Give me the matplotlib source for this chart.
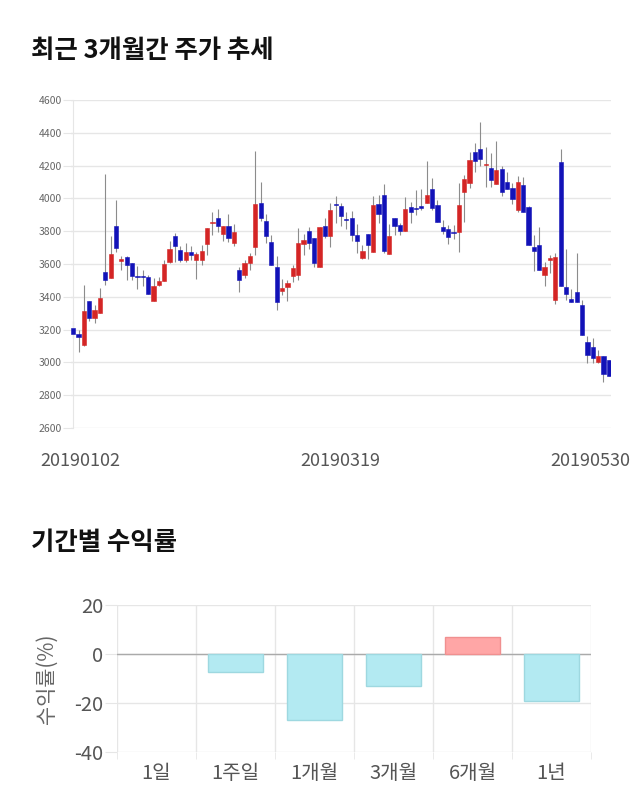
import numpy as np
import matplotlib
matplotlib.use('Agg')
import matplotlib.pyplot as plt

plt.rcParams['font.family'] = ['Noto Sans CJK KR', 'DejaVu Sans']

# Daily prices, 2019-01-02 .. 2019-05-30 (101 trading days)
opens = [3209, 3173, 3108, 3372, 3270, 3301, 3550, 3514, 3833, 3616,
         3642, 3605, 3524, 3518, 3518, 3372, 3473, 3494, 3615, 3768,
         3687, 3622, 3672, 3626, 3622, 3721, 3852, 3883, 3782, 3833,
         3731, 3565, 3534, 3609, 3701, 3971, 3863, 3733, 3579, 3433,
         3457, 3524, 3530, 3723, 3802, 3758, 3581, 3833, 3772, 3958,
         3954, 3866, 3879, 3778, 3636, 3782, 3676, 3965, 4022, 3660,
         3879, 3838, 3804, 3950, 3936, 3954, 3971, 4058, 3961, 3825,
         3812, 3790, 3798, 4036, 4093, 4283, 4302, 4202, 4184, 4086,
         4178, 4103, 4062, 3930, 4082, 3946, 3703, 3713, 3530, 3622,
         3382, 4220, 3459, 3388, 3427, 3352, 3122, 3092, 3002, 3037,
         3013]
highs = [3250, 3195, 3473, 3372, 3352, 3453, 4149, 3772, 3991, 3646,
         3646, 3605, 3585, 3565, 3530, 3514, 3518, 3626, 3743, 3792,
         3707, 3727, 3707, 3676, 3717, 3818, 3920, 3936, 3833, 3904,
         3845, 3579, 3626, 3666, 4291, 4103, 3904, 3774, 3646, 3510,
         3500, 3591, 3822, 3782, 3823, 3758, 3825, 3883, 3971, 4015,
         3971, 3920, 3924, 3843, 3717, 3782, 4015, 4022, 4088, 3843,
         3879, 3848, 4011, 3981, 4052, 4058, 4228, 4123, 3991, 3869,
         3838, 3838, 4093, 4143, 4285, 4336, 4464, 4316, 4275, 4352,
         4198, 4164, 4093, 4137, 4129, 3954, 3774, 3825, 3611, 3652,
         3666, 4302, 3693, 3449, 3670, 3382, 3159, 3149, 3077, 3037,
         3013]
lows = [3149, 3061, 3100, 3250, 3240, 3301, 3469, 3514, 3674, 3565,
        3500, 3504, 3449, 3463, 3417, 3372, 3463, 3494, 3605, 3615,
        3615, 3615, 3626, 3510, 3591, 3656, 3774, 3798, 3743, 3737,
        3711, 3429, 3514, 3561, 3652, 3863, 3731, 3591, 3317, 3408,
        3372, 3490, 3504, 3652, 3691, 3581, 3581, 3758, 3701, 3849,
        3829, 3812, 3743, 3666, 3632, 3630, 3676, 3849, 3666, 3660,
        3774, 3774, 3804, 3849, 3896, 3930, 3971, 3930, 3855, 3784,
        3721, 3751, 3671, 3855, 4066, 4159, 4200, 4072, 4072, 4086,
        4015, 4058, 3965, 3916, 3920, 3713, 3555, 3561, 3463, 3544,
        3358, 3463, 3382, 3368, 3368, 3169, 2996, 2996, 2996, 2879,
        2915]
closes = [3173, 3153, 3315, 3270, 3321, 3392, 3500, 3662, 3695, 3628,
          3595, 3524, 3518, 3516, 3417, 3467, 3494, 3599, 3691, 3707,
          3626, 3672, 3652, 3660, 3680, 3818, 3856, 3829, 3833, 3758,
          3798, 3504, 3605, 3650, 3967, 3883, 3772, 3591, 3368, 3453,
          3483, 3575, 3727, 3747, 3731, 3609, 3825, 3768, 3930, 3955,
          3890, 3862, 3774, 3742, 3682, 3717, 3961, 3904, 3680, 3768,
          3834, 3801, 3936, 3916, 3934, 3940, 4022, 3940, 3855, 3804,
          3762, 3788, 3961, 4120, 4236, 4229, 4241, 4210, 4113, 4173,
          4038, 4058, 3995, 4097, 3920, 3713, 3680, 3561, 3581, 3636,
          3642, 3463, 3419, 3368, 3368, 3169, 3043, 3027, 3037, 2929,
          2915]
date_labels = ['20190102', '20190319', '20190530']
price_ticks = [2600, 2800, 3000, 3200, 3400, 3600, 3800, 4000, 4200, 4400, 4600]

# Period returns (%)
periods = ['1일', '1주일', '1개월', '3개월', '6개월', '1년']
returns = [0.0, -7.5, -27.1, -12.9, 6.9, -19.0]

W, H = 640, 810
fig = plt.figure(figsize=(W / 100, H / 100), dpi=100)

grid_c = '#e6e6e6'
red = '#d42525'
blue = '#1212b8'

# ---- candlestick chart ----
ax1 = fig.add_axes([71 / W, (H - 428) / H, 540 / W, 328 / H])
o = np.array(opens)
h = np.array(highs)
l = np.array(lows)
c = np.array(closes)
x = np.arange(len(o))
up = c >= o
col = np.where(up, red, blue)
ax1.vlines(x, l, h, color='#8c8c8c', linewidth=0.8, zorder=2)
body = np.where(np.abs(c - o) < 6, 6, c - o)
ax1.bar(x, body, bottom=o, width=0.78, color=col, edgecolor=col,
        linewidth=0.4, zorder=3)
ax1.set_xlim(-0.4, len(o) - 0.6)
ax1.set_ylim(2600, 4600)
ax1.set_yticks(price_ticks)
ax1.set_yticklabels([str(t) for t in price_ticks])
ax1.grid(axis='y', color=grid_c, linewidth=1)
ax1.set_axisbelow(True)
for s in ['top', 'right', 'bottom']:
    ax1.spines[s].set_visible(False)
ax1.spines['left'].set_color(grid_c)
ax1.spines['left'].set_position(('data', 0))
ax1.tick_params(axis='y', length=7, color=grid_c, labelsize=7.5,
                labelcolor='#666666', pad=1)
ax1.set_xticks([])
for xp, lab in zip([80, 340, 590], date_labels):
    fig.text(xp / W, 1 - 461 / H, lab, ha='center', va='center',
             fontsize=13, color='#555555')

fig.text(31 / W, 1 - 50 / H, '최근 3개월간 주가 추세', ha='left', va='center',
         fontsize=18.3, fontweight='bold', color='#111111')
fig.text(31 / W, 1 - 543 / H, '기간별 수익률', ha='left', va='center',
         fontsize=18.3, fontweight='bold', color='#111111')

# ---- returns bar chart ----
ax2 = fig.add_axes([117 / W, (H - 752) / H, 474 / W, 147 / H])
pos = np.arange(len(periods))
bar_face = ['#ffa6a6' if r > 0 else '#b3eaf2' for r in returns]
bar_edge = ['#f09090' if r > 0 else '#9ed8e0' for r in returns]
bar_lw = [1 if r != 0 else 0 for r in returns]
ax2.bar(pos, returns, width=0.69, color=bar_face, edgecolor=bar_edge,
        linewidth=bar_lw, zorder=3)
ax2.set_xlim(-0.5, len(periods) - 0.5)
ax2.set_ylim(-40, 20)
ax2.set_yticks([-40, -20, 0, 20])
ax2.set_yticklabels(['-40', '-20', '0', '20'])
ax2.set_xticks(pos)
ax2.set_xticklabels(periods)
ax2.set_xticks(np.arange(len(periods) + 1) - 0.5, minor=True)
ax2.grid(axis='y', which='major', color=grid_c, linewidth=1)
ax2.grid(axis='x', which='minor', color=grid_c, linewidth=1)
ax2.axhline(0, color='#aaaaaa', linewidth=1, zorder=2)
ax2.set_axisbelow(True)
for s in ax2.spines.values():
    s.set_visible(False)
ax2.tick_params(axis='y', length=9, color=grid_c, labelsize=14.5,
                labelcolor='#555555', pad=1)
ax2.tick_params(axis='x', which='major', length=0, labelsize=14.5,
                labelcolor='#555555', pad=8)
ax2.tick_params(axis='x', which='minor', length=5, color=grid_c)
ax2.set_ylabel('수익률(%)', fontsize=15, color='#666666', labelpad=12)

fig.savefig('out.png', dpi=100, facecolor='white')
